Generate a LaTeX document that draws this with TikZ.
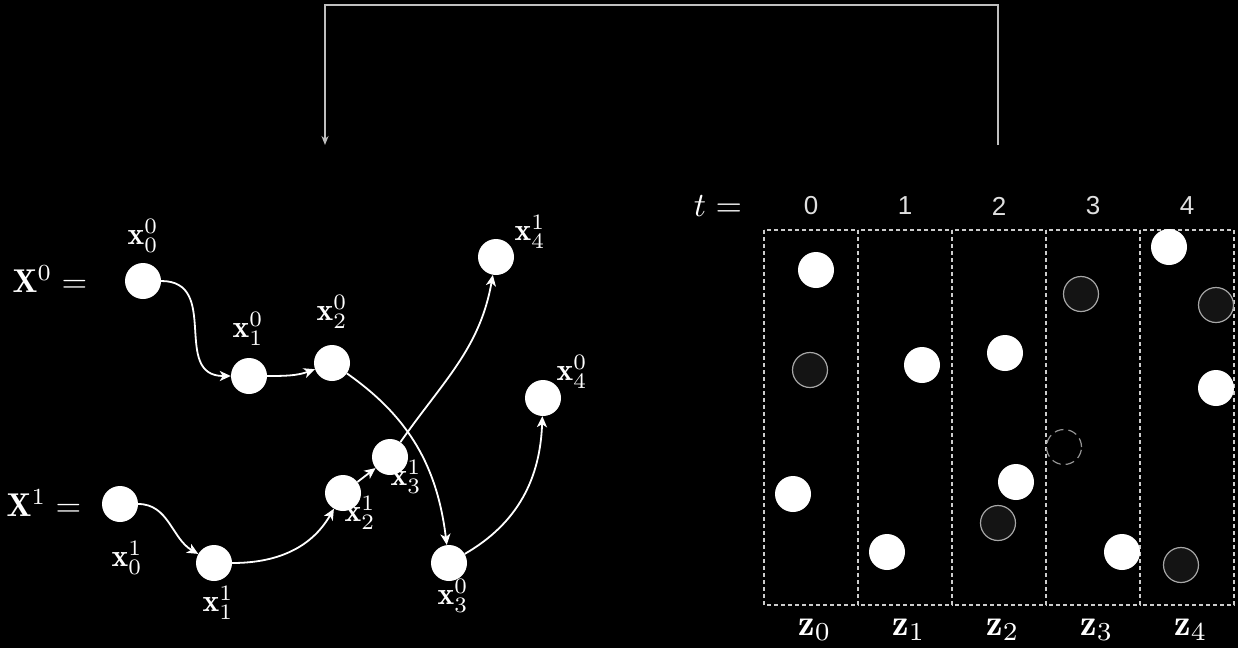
\documentclass[tikz,border=0pt]{standalone}
\usepackage{graphicx}
\usepackage{fontspec}
\newfontfamily\digitfont{Liberation Sans}
\usetikzlibrary{arrows.meta}

\newcommand{\mlab}[2][3.15]{\scalebox{#1}{$#2$}}

\begin{document}
\begin{tikzpicture}[x=1pt, y=-1pt,
    tok/.style={circle, fill=white, minimum size=36pt, inner sep=0pt},
    ghost/.style={circle, fill=black!92, draw=gray!70, line width=1.2pt, minimum size=35pt, inner sep=0pt},
    gaptok/.style={circle, draw=gray!85, line width=1.2pt, dash pattern=on 9pt off 5pt, minimum size=35pt, inner sep=0pt},
    lbl/.style={text=white, inner sep=0pt},
    flow/.style={white, line width=1.8pt, -{Stealth[length=11pt, width=10pt, inset=3pt]}},
    slot/.style={draw=gray!40, line width=1.5pt, dash pattern=on 4pt off 3pt},
    feedback/.style={gray!50, line width=1.5pt, -{Stealth[length=9pt, width=7pt]}}]

    \fill[black] (0,0) rectangle (1238,648);
    \useasboundingbox (0,0) rectangle (1238,648);

    % feedback loop on top
    \coordinate (fbsrc) at (998,145);
    \coordinate (fbdst) at (325,145);
    \draw[feedback] (fbsrc) |- (660,5) -| (fbdst);

    % sequence X^0
    \node[lbl] (seqa) at (50,279) {\mlab[3.3]{\mathbf{X}^0 =}};
    \node[tok] (xa0) at (143,281) {};
    \node[tok] (xa1) at (249,376) {};
    \node[tok] (xa2) at (332,363) {};
    \node[tok] (xa3) at (449,563) {};
    \node[tok] (xa4) at (543,398) {};

    % sequence X^1
    \node[lbl] (seqb) at (44,503) {\mlab[3.3]{\mathbf{X}^1 =}};
    \node[tok] (xb0) at (120,504) {};
    \node[tok] (xb1) at (214,563) {};
    \node[tok] (xb2) at (343,493) {};
    \node[tok] (xb3) at (390,457) {};
    \node[tok] (xb4) at (496,257) {};

    % labels
    \node[lbl] (la0) at (143,236) {\mlab{\mathbf{x}^0_0}};
    \node[lbl] (la1) at (248,329) {\mlab{\mathbf{x}^0_1}};
    \node[lbl] (la2) at (332,312) {\mlab{\mathbf{x}^0_2}};
    \node[lbl] (la3) at (453,596) {\mlab{\mathbf{x}^0_3}};
    \node[lbl] (la4) at (572,372) {\mlab{\mathbf{x}^0_4}};
    \node[lbl] (lb0) at (127,558) {\mlab{\mathbf{x}^1_0}};
    \node[lbl] (lb1) at (218,603) {\mlab{\mathbf{x}^1_1}};
    \node[lbl] (lb2) at (360,513) {\mlab{\mathbf{x}^1_2}};
    \node[lbl] (lb3) at (406,477) {\mlab{\mathbf{x}^1_3}};
    \node[lbl] (lb4) at (530,232) {\mlab{\mathbf{x}^1_4}};

    % transitions
    \draw[flow] (xa0) to[out=0, in=180, looseness=1.3] (xa1);
    \draw[flow] (xa1) to[out=0, in=200] (xa2);
    \draw[flow] (xa2) to[out=-35, in=97] (xa3);
    \draw[flow] (xa3) to[out=30, in=-92] (xa4);
    \draw[flow] (xb0) to[out=0, in=150] (xb1);
    \draw[flow] (xb1) to[out=0, in=-120] (xb2);
    \draw[flow] (xb2) -- (xb3);
    \draw[flow] (xb3) to[out=55, in=-100] (xb4);

    % time slots
    \node[lbl] (teq) at (718,206) {\mlab[3.4]{t =}};
    \foreach \i in {0,...,4} {
        \draw[slot] (764+94*\i,230) rectangle (858+94*\i,605);
        \node[text=white!88!black, font=\digitfont\fontsize{26}{28}\selectfont] (tn\i) at (811+94*\i,206) {\i};
        \node[lbl] (zl\i) at (815+94*\i,630) {\mlab[3.7]{\mathbf{z}_\i}};
    }

    % tokens in the slots
    \foreach \x/\y [count=\k] in {816/270, 793/494, 922/365, 887/552, 1005/353, 1016/482, 1122/552, 1169/247, 1216/388}
        \node[tok] (w\k) at (\x,\y) {};
    \foreach \x/\y [count=\k] in {810/370, 998/523, 1081/294, 1216/305, 1181/565}
        \node[ghost] (g\k) at (\x,\y) {};
    \node[gaptok] (hole) at (1064,447) {};
\end{tikzpicture}
\end{document}
